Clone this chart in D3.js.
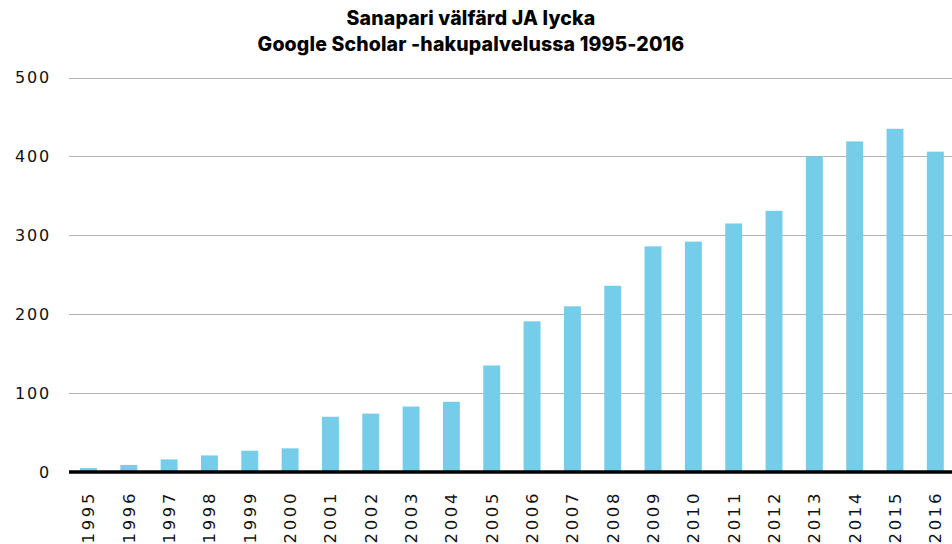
<!DOCTYPE html>
<html><head><meta charset="utf-8">
<script src="https://cdn.jsdelivr.net/npm/d3@7"></script>
<style>
html,body{margin:0;padding:0;background:#fff;}
svg{display:block;}
</style></head>
<body>
<script>
const titleLines = ["Sanapari välfärd JA lycka", "Google Scholar -hakupalvelussa 1995-2016"];
const years = ["1995","1996","1997","1998","1999","2000","2001","2002","2003","2004","2005","2006","2007","2008","2009","2010","2011","2012","2013","2014","2015","2016"];
const counts = [5,9,16,21,27,30,70,74,83,89,135,191,210,236,286,292,315,331,400,419,435,406];
const yTicks = [0,100,200,300,400,500];

const W = 952, H = 544;
const svg = d3.select("body").append("svg").attr("width", W).attr("height", H);

const x = d3.scaleBand().domain(years).range([68.3, 955.5]).paddingInner(0.58).paddingOuter(0.29);
const y = d3.scaleLinear().domain([0, 500]).range([472, 77.5]);

// gridlines
svg.append("g").selectAll("line").data(yTicks.filter(d => d > 0)).join("line")
  .attr("x1", 69).attr("x2", W)
  .attr("y1", d => Math.round(y(d)) + 0.5).attr("y2", d => Math.round(y(d)) + 0.5)
  .attr("stroke", "#b3b3b3").attr("stroke-width", 1);

// y labels
svg.append("g").selectAll("text").data(yTicks).join("text")
  .attr("x", 51).attr("y", d => y(d))
  .attr("dy", "0.35em")
  .attr("text-anchor", "end")
  .attr("font-family", "DejaVu Sans")
  .attr("font-size", 16)
  .attr("letter-spacing", 1.8)
  .attr("fill", "#111")
  .text(d => d);

// bars
svg.append("g").selectAll("rect").data(years).join("rect")
  .attr("x", d => x(d))
  .attr("width", x.bandwidth())
  .attr("y", (d, i) => y(counts[i]))
  .attr("height", (d, i) => y(0) - y(counts[i]))
  .attr("fill", "#76cde9");

// baseline
svg.append("line").attr("x1", 69).attr("x2", W)
  .attr("y1", y(0)).attr("y2", y(0))
  .attr("stroke", "#000").attr("stroke-width", 3.4);

// x labels
svg.append("g").selectAll("text").data(years).join("text")
  .attr("transform", d => `translate(${x(d) + x.bandwidth()/2},491) rotate(-90)`)
  .attr("text-anchor", "end")
  .attr("dy", "0.36em")
  .attr("font-family", "DejaVu Sans")
  .attr("font-size", 16.5)
  .attr("letter-spacing", 2.6)
  .attr("fill", "#111")
  .text(d => d);

// title
svg.append("g").selectAll("text").data(titleLines).join("text")
  .attr("x", 471).attr("y", (d, i) => 25 + i * 26)
  .attr("text-anchor", "middle")
  .attr("font-family", "Inter")
  .attr("font-weight", 800)
  .attr("font-size", 19.5)
  .attr("letter-spacing", 0.15)
  .attr("fill", "#000")
  .text(d => d);
</script>
</body></html>
